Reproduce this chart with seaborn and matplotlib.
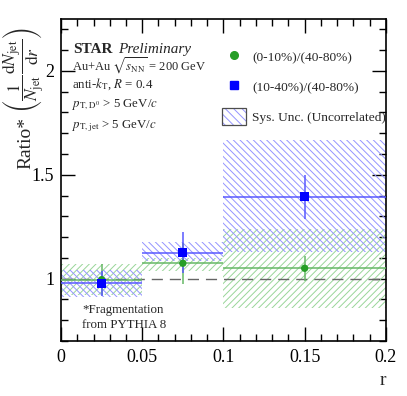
import numpy as np
import pandas as pd
import matplotlib
matplotlib.use("Agg")
import matplotlib.pyplot as plt
import seaborn as sns
from matplotlib.patches import Rectangle
from matplotlib.lines import Line2D
from matplotlib.legend_handler import HandlerTuple
from matplotlib.ticker import MultipleLocator

# ---- data ----
bin_lo = [0.0, 0.05, 0.1]
bin_hi = [0.05, 0.1, 0.2]
r_center = [0.025, 0.075, 0.15]

central_val = [0.995, 1.074, 1.05]       # (0-10%)/(40-80%)
central_stat = [0.075, 0.10, 0.06]
central_sys_lo = [0.92, 1.035, 0.86]
central_sys_hi = [1.072, 1.10, 1.24]

mid_val = [0.977, 1.125, 1.394]         # (10-40%)/(40-80%)
mid_stat = [0.06, 0.10, 0.105]
mid_sys_lo = [0.91, 1.087, 1.127]
mid_sys_hi = [1.043, 1.175, 1.668]

labels = ["(0-10%)/(40-80%)", "(10-40%)/(40-80%)"]

sns.set_theme(style="ticks")
plt.rcParams['font.family'] = ['Liberation Serif', 'DejaVu Serif']
plt.rcParams['mathtext.fontset'] = 'stix'
plt.rcParams['hatch.linewidth'] = 0.7

green = (0.15, 0.62, 0.15)
blue = (0.0, 0.0, 1.0)
green_line = (0.40, 0.72, 0.40)
blue_line = (0.35, 0.35, 1.0)
green_h = (0.60, 0.84, 0.60)
blue_h = (0.58, 0.58, 1.0)

fig = plt.figure(figsize=(4.07, 3.96), dpi=100)
ax = fig.add_axes([0.150, 0.139, 0.798, 0.813])

# sys boxes
for i in range(3):
    ax.add_patch(Rectangle((bin_lo[i], central_sys_lo[i]), bin_hi[i]-bin_lo[i],
                           central_sys_hi[i]-central_sys_lo[i], facecolor='none',
                           edgecolor=green_h, hatch='/////', lw=0, zorder=1))
    ax.add_patch(Rectangle((bin_lo[i], mid_sys_lo[i]), bin_hi[i]-bin_lo[i],
                           mid_sys_hi[i]-mid_sys_lo[i], facecolor='none',
                           edgecolor=blue_h, hatch='\\\\\\\\\\', lw=0, zorder=1))

ax.axhline(1.0, color='0.4', lw=1.0, ls=(0, (8, 5)), zorder=2)

xerr = [[c - lo for c, lo in zip(r_center, bin_lo)], [hi - c for c, hi in zip(r_center, bin_hi)]]
ax.errorbar(r_center, central_val, xerr=xerr, fmt='none',
            ecolor=green_line, elinewidth=1.1, zorder=3)
ax.errorbar(r_center, central_val, yerr=central_stat, fmt='none',
            ecolor=green_line, elinewidth=1.1, zorder=3)
ax.errorbar(r_center, mid_val, xerr=xerr, fmt='none',
            ecolor=blue_line, elinewidth=1.1, zorder=3)
ax.errorbar(r_center, mid_val, yerr=mid_stat, fmt='none',
            ecolor=blue_line, elinewidth=1.1, zorder=3)

df = pd.DataFrame({
    'r': r_center * 2,
    'val': central_val + mid_val,
    'set': [labels[0]] * 3 + [labels[1]] * 3,
})
sns.scatterplot(data=df, x='r', y='val', hue='set', style='set',
                palette={labels[0]: green, labels[1]: blue},
                markers={labels[0]: 'o', labels[1]: 's'},
                size='set', sizes={labels[0]: 28, labels[1]: 40},
                edgecolor='none', ax=ax, legend=False, zorder=4)

ax.set_xlim(0, 0.2)
ax.set_ylim(0.7, 2.25)
ax.xaxis.set_major_locator(MultipleLocator(0.05))
ax.xaxis.set_minor_locator(MultipleLocator(0.01))
ax.yaxis.set_major_locator(MultipleLocator(0.5))
ax.yaxis.set_minor_locator(MultipleLocator(0.1))
ax.tick_params(which='both', direction='in', top=True, right=True, labelsize=13,
               colors='black', width=1.0)
ax.tick_params(which='major', length=10)
ax.tick_params(which='minor', length=5)
ax.set_xticks([0, 0.05, 0.1, 0.15, 0.2])
ax.set_xticklabels(['0', '0.05', '0.1', '0.15', '0.2'])
ax.set_yticks([1, 1.5, 2])
ax.set_yticklabels(['1', '1.5', '2'])
ax.tick_params(axis='x', pad=6)
ax.tick_params(axis='y', pad=5)
for s in ax.spines.values():
    s.set_linewidth(1.2)
    s.set_color('black')

ax.set_xlabel('r', fontsize=14, loc='right', labelpad=4)
ax.set_ylabel('')
# y-axis title, split in two parts to follow the reference layout
fig.text(26 / 407, 1 - 143 / 396, 'Ratio*', fontsize=14, rotation=90,
         ha='center', va='center')
fig.text(23 / 407, 1 - 70 / 396,
         r'$\left(\dfrac{1}{N_{\rm jet}}\dfrac{\mathrm{d}N_{\rm jet}}{\mathrm{d}r}\right)$',
         fontsize=12.5, rotation=90, ha='center', va='center')

# text
ax.text(0.036, 0.895, 'STAR', fontweight='bold', fontsize=11, transform=ax.transAxes, va='baseline')
ax.text(0.176, 0.895, 'Preliminary', style='italic', fontsize=11, transform=ax.transAxes, va='baseline')
ax.text(0.034, 0.840, r'Au+Au $\sqrt{s_{\rm NN}}$ = 200 GeV', fontsize=9.0, transform=ax.transAxes, va='baseline')
ax.text(0.034, 0.786, r'anti-$k_{\rm T}$, $R$ = 0.4', fontsize=9.3, transform=ax.transAxes, va='baseline')
ax.text(0.034, 0.727, r'$p_{\rm T,D^0}$ > 5 GeV/$c$', fontsize=9.3, transform=ax.transAxes, va='baseline')
ax.text(0.034, 0.661, r'$p_{\rm T,jet}$ > 5 GeV/$c$', fontsize=9.3, transform=ax.transAxes, va='baseline')
ax.text(0.065, 0.087, '*Fragmentation', fontsize=9.3, transform=ax.transAxes, va='baseline')
ax.text(0.065, 0.040, 'from PYTHIA 8', fontsize=9.3, transform=ax.transAxes, va='baseline')

sys_handle = (
    Rectangle((0, 0), 1, 1, facecolor='white', edgecolor=blue_h, hatch='\\\\\\\\', lw=0),
    Rectangle((0, 0), 1, 1, facecolor='none', edgecolor='0.3', lw=0.9),
)
handles = [
    Line2D([], [], ls='none', marker='o', color=green, markersize=5.5),
    Line2D([], [], ls='none', marker='s', color=blue, markersize=6),
    sys_handle,
]
leg = ax.legend(handles, labels + ['Sys. Unc. (Uncorrelated)'], loc='upper left',
                bbox_to_anchor=(0.495, 0.909), frameon=False, fontsize=9.6,
                labelspacing=1.0, handlelength=1.85, handleheight=1.55,
                handletextpad=0.45, borderaxespad=0, borderpad=0,
                handler_map={tuple: HandlerTuple(ndivide=1, pad=0)})

fig.savefig('out.png', dpi=100)
